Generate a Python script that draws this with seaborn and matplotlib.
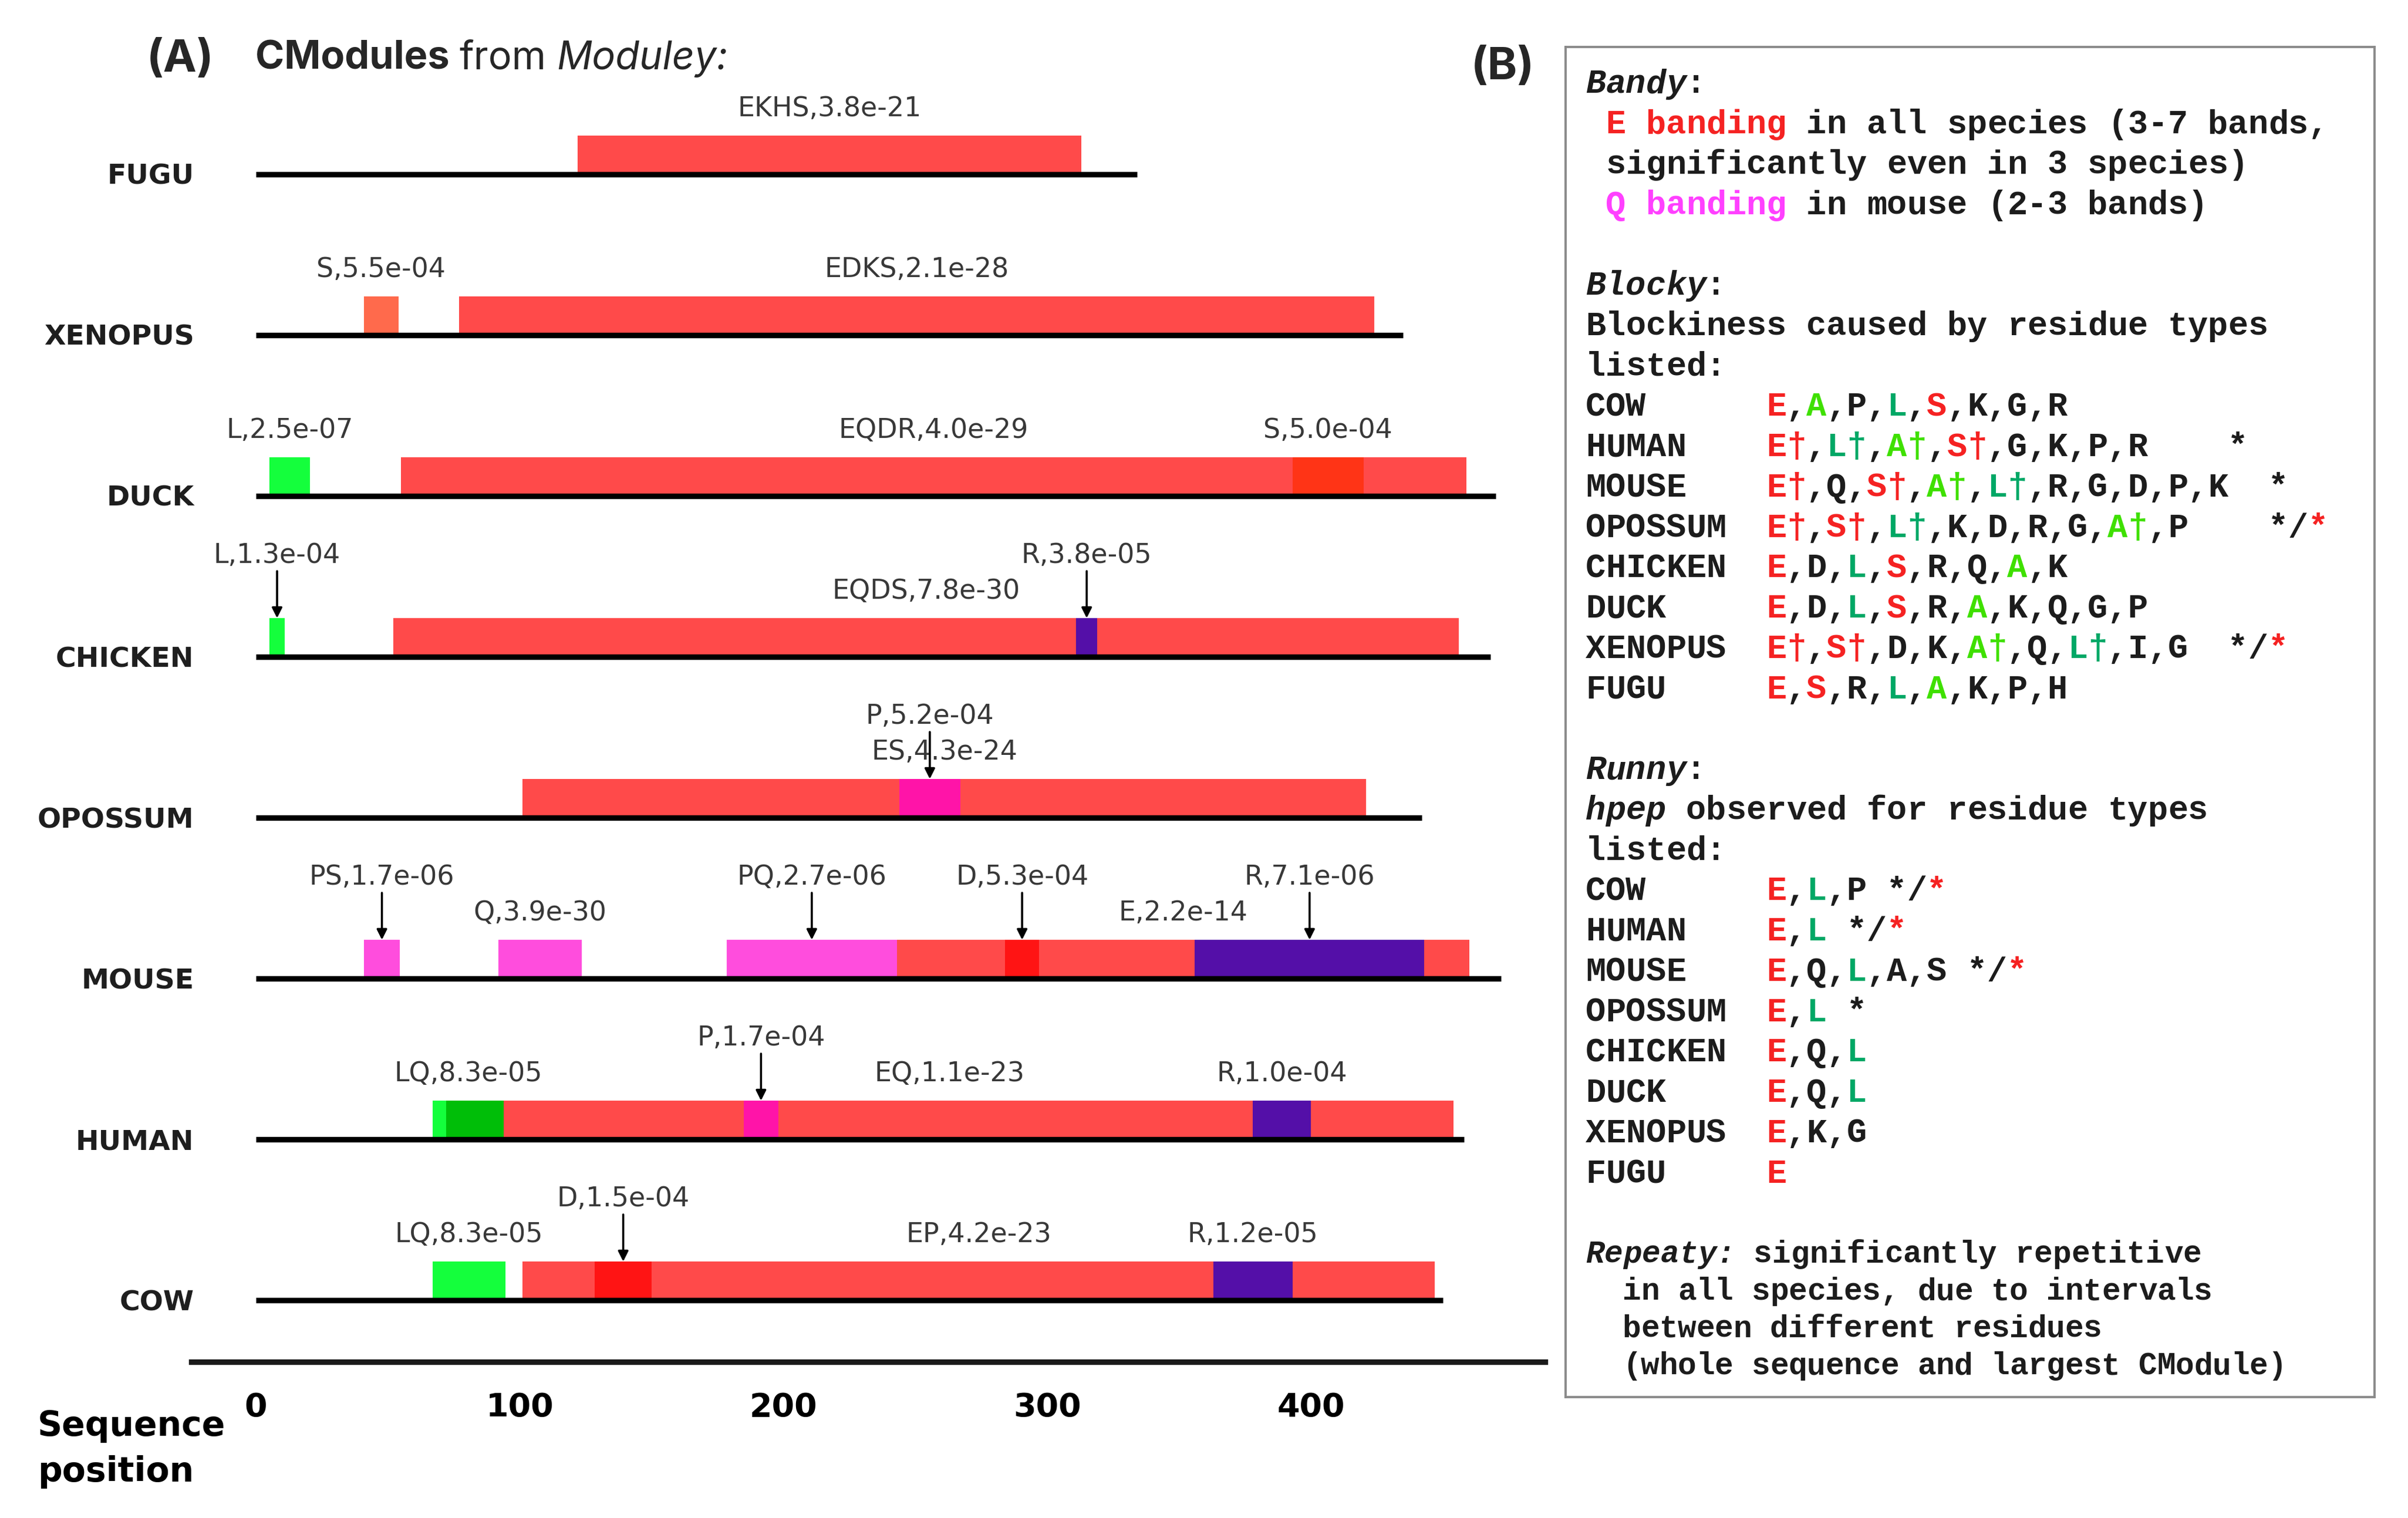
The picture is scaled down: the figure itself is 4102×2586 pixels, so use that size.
import matplotlib
matplotlib.use("Agg")
import matplotlib.pyplot as plt
import seaborn as sns

# ---------------- panel A data: CModules from Moduley ----------------
species = ["FUGU", "XENOPUS", "DUCK", "CHICKEN", "OPOSSUM", "MOUSE", "HUMAN", "COW"]
seq_length = [334, 435, 470, 468, 442, 472, 458, 450]

# (residue code, p-value, start, end)
fugu_modules = [("EKHS", "3.8e-21", 122, 313)]
xenopus_modules = [("S", "5.5e-04", 41, 54), ("EDKS", "2.1e-28", 77, 424)]
duck_modules = [("L", "2.5e-07", 5, 20.5), ("EQDR", "4.0e-29", 55, 459),
                ("S", "5.0e-04", 393, 420)]
chicken_modules = [("L", "1.3e-04", 5, 11), ("EQDS", "7.8e-30", 52, 456),
                   ("R", "3.8e-05", 311, 319)]
opossum_modules = [("ES", "4.3e-24", 101, 421), ("P", "5.2e-04", 244, 267)]
mouse_modules = [("PS", "1.7e-06", 41, 54.5), ("Q", "3.9e-30", 92, 123.5),
                 ("PQ", "2.7e-06", 178.5, 243), ("E", "2.2e-14", 243, 460),
                 ("D", "5.3e-04", 284, 297), ("R", "7.1e-06", 356, 443)]
human_modules = [("LQ", "8.3e-05", 67, 94), ("EQ", "1.1e-23", 72, 454),
                 ("P", "1.7e-04", 185, 198), ("R", "1.0e-04", 378, 400)]
cow_modules = [("LQ", "8.3e-05", 67, 94.5), ("EP", "4.2e-23", 101, 447),
               ("D", "1.5e-04", 128.5, 150), ("R", "1.2e-05", 363, 393)]

modules = [fugu_modules, xenopus_modules, duck_modules, chicken_modules,
           opossum_modules, mouse_modules, human_modules, cow_modules]

# labels lifted above the others and pointed at with an arrow
arrow_labels = {("CHICKEN", "L"), ("CHICKEN", "R"), ("OPOSSUM", "P"),
                ("MOUSE", "PS"), ("MOUSE", "PQ"), ("MOUSE", "D"), ("MOUSE", "R"),
                ("HUMAN", "P"), ("COW", "D")}

x_ticks = [0, 100, 200, 300, 400]

# ---------------- panel B text ----------------
bandy_lines = [" E banding in all species (3-7 bands,",
               " significantly even in 3 species)",
               " Q banding in mouse (2-3 bands)"]
blocky_rows = [("COW", "E,A,P,L,S,K,G,R", ""),
               ("HUMAN", "E†,L†,A†,S†,G,K,P,R", "    *"),
               ("MOUSE", "E†,Q,S†,A†,L†,R,G,D,P,K", "  *"),
               ("OPOSSUM", "E†,S†,L†,K,D,R,G,A†,P", "    */*"),
               ("CHICKEN", "E,D,L,S,R,Q,A,K", ""),
               ("DUCK", "E,D,L,S,R,A,K,Q,G,P", ""),
               ("XENOPUS", "E†,S†,D,K,A†,Q,L†,I,G", "  */*"),
               ("FUGU", "E,S,R,L,A,K,P,H", "")]
runny_rows = [("COW", "E,L,P", " */*"),
              ("HUMAN", "E,L", " */*"),
              ("MOUSE", "E,Q,L,A,S", " */*"),
              ("OPOSSUM", "E,L", " *"),
              ("CHICKEN", "E,Q,L", ""),
              ("DUCK", "E,Q,L", ""),
              ("XENOPUS", "E,K,G", ""),
              ("FUGU", "E", "")]
repeaty_lines = ["  in all species, due to intervals",
                 "  between different residues",
                 "  (whole sequence and largest CModule)"]

# ---------------- style ----------------
RED_MOD = "#ff4a4a"
GREEN_MOD = "#14ff3c"
DARK_GREEN = "#00be08"
PURPLE = "#540fa8"
HOT_PINK = "#ff14a8"
LIGHT_PINK = "#ff4ddd"
BRIGHT_RED = "#ff1414"
S_ORANGE = (1.0, 0.17, 0.0, 0.7)

TXT_RED = "#f52222"
TXT_MAG = "#ff40ff"
TXT_LIME = "#3fe000"
TXT_TEAL = "#00a866"
TXT_K = "#1c1c1c"


def module_color(code):
    if code.startswith("E"):
        return RED_MOD
    if code.startswith("L"):
        return GREEN_MOD
    if code == "R":
        return PURPLE
    if code == "D":
        return BRIGHT_RED
    if code == "P":
        return HOT_PINK
    if code == "S":
        return S_ORANGE
    return LIGHT_PINK


sns.set_theme(style="white")
plt.rcParams["font.family"] = ["DejaVu Sans"]

W, H, DPI = 4102, 2586, 200
fig = plt.figure(figsize=(W / DPI, H / DPI), dpi=DPI)
fig.patch.set_facecolor("white")

# panel A axes: rows every 274 px, first baseline at y=297 px
ax = fig.add_axes([326 / W, 1 - 2320 / H, (2632 - 326) / W, (2320 - 129) / H])
ax.set_xlim(-24.5, 488.8)
ax.set_ylim(7.383, -0.613)
px = 1 / 274.0
bar_h = 66 * px

for row, (name, length, mods) in enumerate(zip(species, seq_length, modules)):
    # big modules first, small ones painted over them
    for code, pval, s, e in sorted(mods, key=lambda m: -(m[3] - m[2])):
        ax.barh(row, e - s, left=s, height=-bar_h, align="edge",
                color=module_color(code), linewidth=0, zorder=2)
    # overlap of L-type and E-type modules shows darker green
    for c1, _, s1, e1 in mods:
        for c2, _, s2, e2 in mods:
            if c1.startswith("L") and c2.startswith("E") and min(e1, e2) > max(s1, s2):
                ax.barh(row, min(e1, e2) - max(s1, s2), left=max(s1, s2), height=-bar_h,
                        align="edge", color=DARK_GREEN, linewidth=0, zorder=3)
    ax.hlines(row, 0, length, color="black", linewidth=3.4, zorder=4)
    ax.text(-23.5, row + 17 * px, name, ha="right", va="baseline", fontsize=17,
            fontweight="bold", color="#1e1e1e", clip_on=False)
    for code, pval, s, e in mods:
        xc = (s + e) / 2
        if (name, code) in arrow_labels:
            ax.text(xc, row - 176 * px + 16 * px, f"{code},{pval}", ha="center",
                    va="baseline", fontsize=16.5, color="#383838")
            ax.annotate("", xy=(xc, row - bar_h), xytext=(xc, row - 146 * px),
                        arrowprops=dict(arrowstyle="-|>", color="black", lw=1.3,
                                        mutation_scale=13, shrinkA=0, shrinkB=0),
                        zorder=5)
        else:
            ax.text(xc, row - 115 * px + 16 * px, f"{code},{pval}", ha="center",
                    va="baseline", fontsize=16.5, color="#383838")

sns.despine(ax=ax, left=True, top=True, right=True)
ax.spines["bottom"].set_linewidth(3.4)
ax.spines["bottom"].set_color("#1a1a1a")
ax.set_yticks([])
ax.set_xticks(x_ticks)
ax.set_xticklabels([str(t) for t in x_ticks], fontsize=20, fontweight="bold")
ax.tick_params(axis="x", length=5, width=1.5, direction="inout", pad=16,
               colors="black")
ax.patch.set_alpha(0)

fig.text(64 / W, 1 - 2429 / H, "Sequence", ha="left", va="center", fontsize=21,
         fontweight="bold", color="black")
fig.text(64 / W, 1 - 2508 / H, "position", ha="left", va="center", fontsize=21,
         fontweight="bold", color="black")

# panel titles, written piece by piece
renderer = fig.canvas.get_renderer()
title_font = ["Inter", "DejaVu Sans"]
fig.text(250 / W, 1 - 122 / H, "(A)", fontsize=27.5, fontweight="bold",
         family=title_font, va="baseline", ha="left")
xpos = 435
for piece, weight, style in [("CModules", "bold", "normal"), ("from", "normal", "normal"),
                             ("Moduley:", "normal", "italic")]:
    t = fig.text(xpos / W, 1 - 118 / H, piece, fontsize=24, fontweight=weight,
                 fontstyle=style, family=title_font, va="baseline", ha="left")
    xpos = t.get_window_extent(renderer).x1 + 17
fig.text(2506 / W, 1 - 135 / H, "(B)", fontsize=27.5, fontweight="bold",
         family=title_font, va="baseline", ha="left")

# ---------------- panel B ----------------
bx = fig.add_axes([2667 / W, 1 - 2380 / H, 1378 / W, 2300 / H])
bx.set_xlim(0, 1378)
bx.set_ylim(2300, 0)
bx.set_xticks([])
bx.set_yticks([])
for sp in bx.spines.values():
    sp.set_visible(True)
    sp.set_color("#8a8a8a")
    sp.set_linewidth(1.4)

MONO = ["Liberation Mono", "DejaVu Sans Mono"]


def draw_line(chars, y, cw=34.2, fs=20.5):
    # chars: list of (char, color, style); monospace grid, one char per cell
    for i, (ch, col, sty) in enumerate(chars):
        if ch == " ":
            continue
        bx.text(34 + i * cw + cw / 2, y + 0.33 * fs * DPI / 72, ch, ha="center",
                va="baseline", fontsize=fs, family=MONO, fontweight="bold",
                fontstyle=sty, color=col)


def plain(s, col=TXT_K, sty="normal"):
    return [(c, col, sty) for c in s]


def residues(s, palette):
    out = []
    last = TXT_K
    for c in s:
        if c == "†":
            out.append((c, last, "normal"))
        elif c == ",":
            out.append((c, TXT_K, "normal"))
        else:
            last = palette.get(c, TXT_K)
            out.append((c, last, "normal"))
    return out


def marks(s):
    out = plain(s)
    if "/" in s:
        out[-1] = ("*", TXT_RED, "normal")
    return out


blocky_palette = {"E": TXT_RED, "S": TXT_RED, "A": TXT_LIME, "L": TXT_TEAL}
runny_palette = {"E": TXT_RED, "L": TXT_TEAL}


def line_y(k):
    return 59.5 + k * 68.75


draw_line(plain("Bandy", sty="italic") + plain(":"), line_y(0))
draw_line(plain(" ") + plain(bandy_lines[0][1:10], TXT_RED) + plain(bandy_lines[0][10:]),
          line_y(1))
draw_line(plain(bandy_lines[1]), line_y(2))
draw_line(plain(" ") + plain(bandy_lines[2][1:10], TXT_MAG) + plain(bandy_lines[2][10:]),
          line_y(3))

draw_line(plain("Blocky", sty="italic") + plain(":"), line_y(5))
draw_line(plain("Blockiness caused by residue types"), line_y(6))
draw_line(plain("listed:"), line_y(7))
for j, (name, res, mk) in enumerate(blocky_rows):
    draw_line(plain(name.ljust(9)) + residues(res, blocky_palette) + marks(mk), line_y(8 + j))

draw_line(plain("Runny", sty="italic") + plain(":"), line_y(17))
draw_line(plain("hpep", sty="italic") + plain(" observed for residue types"), line_y(18))
draw_line(plain("listed:"), line_y(19))
for j, (name, res, mk) in enumerate(runny_rows):
    draw_line(plain(name.ljust(9)) + residues(res, runny_palette) + marks(mk), line_y(20 + j))

draw_line(plain("Repeaty:", sty="italic") + plain(" significantly repetitive"),
          line_y(29), cw=31.8, fs=19)
for j, txt in enumerate(repeaty_lines):
    draw_line(plain(txt), line_y(29) + 63.5 * (j + 1), cw=31.4, fs=19)

fig.savefig("out.png", dpi=DPI, facecolor="white")
